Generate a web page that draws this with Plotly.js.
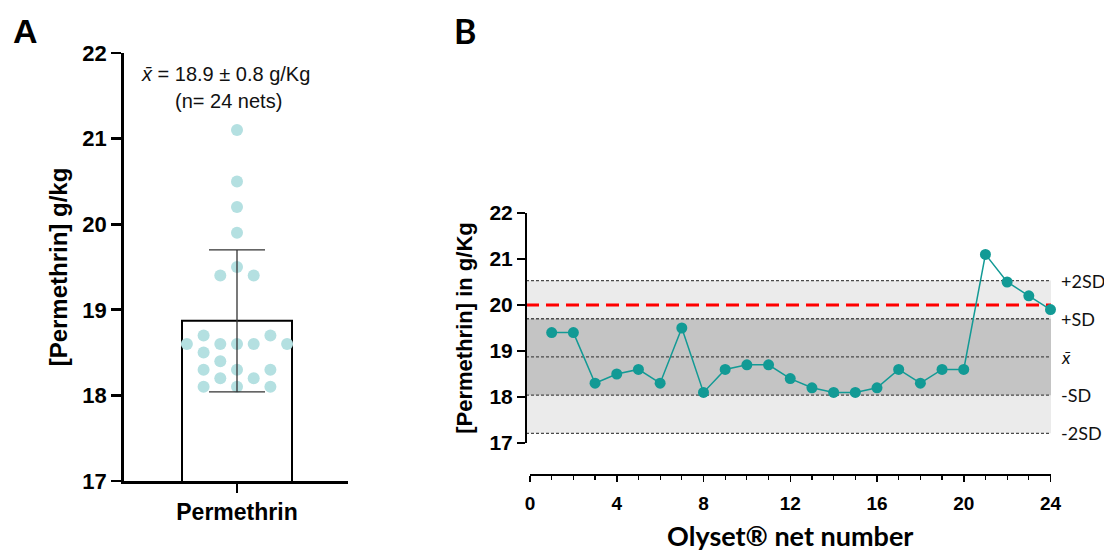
<!DOCTYPE html>
<html>
<head>
<meta charset="utf-8">
<script src="https://cdn.plot.ly/plotly-3.0.1.min.js"></script>
<style>html,body{margin:0;padding:0;background:#fff;}#chart{width:1104px;height:555px;}</style>
</head>
<body>
<div id="chart"></div>
<script>
// ---------- data ----------
const netNumbers = [1,2,3,4,5,6,7,8,9,10,11,12,13,14,15,16,17,18,19,20,21,22,23,24];
const permethrin = [19.4,19.4,18.3,18.5,18.6,18.3,19.5,18.1,18.6,18.7,18.7,18.4,18.2,18.1,18.1,18.2,18.6,18.3,18.6,18.6,21.1,20.5,20.2,19.9];
const barCategory = ['Permethrin'];
const yTickVals = [17,18,19,20,21,22];
const xTickValsB = [0,4,8,12,16,20,24];
const sdMultipliers = [2,1,0,-1,-2];
const sdLabels = ['+2SD','+SD','<i>x̄</i>','-SD','-2SD'];
const limitValue = 20;

// ---------- derived stats ----------
const n = permethrin.length;
const mean = permethrin.reduce((a,b)=>a+b,0)/n;
const sd = Math.sqrt(permethrin.reduce((a,b)=>a+(b-mean)*(b-mean),0)/(n-1));

// ---------- geometry helpers ----------
const W = 1104, H = 555;
const px = p => p/W;
const py = p => 1 - p/H;

// panel A x axis
const aLeft = 124, aRight = 348, barPx = 110, barCenterPx = 237;
const aRange = [-(barCenterPx-aLeft)/barPx, (aRight-barCenterPx)/barPx];
const stepPx = 16.7;
const stepX = stepPx / barPx;

// beeswarm slot assignment (grid based)
function swarmSlots(vals, res){
  const rowOf = v => Math.round(v/res);
  const rows = {};
  vals.forEach((v,i)=>{ const r=rowOf(v); (rows[r]=rows[r]||[]).push(i); });
  const keys = Object.keys(rows).map(Number).sort((a,b)=>rows[b].length-rows[a].length || a-b);
  const placed = {}, slots = new Array(vals.length);
  const all = []; for(let s=-7;s<=7;s++) all.push(s);
  const byAbs = (a,b)=>Math.abs(a)-Math.abs(b) || a-b;
  keys.forEach(r=>{
    const hasNb = rows[r-1] || rows[r+1];
    let cands;
    if(!hasNb){ cands = all.slice().sort(byAbs); }
    else{
      const par = (((r%2)+2)%2===0) ? 1 : 0;
      const pref = all.filter(s=>Math.abs(s)<=3 && Math.abs(s)%2===par).sort(byAbs);
      const other = all.filter(s=>!pref.includes(s)).sort(byAbs);
      cands = pref.concat(other);
    }
    placed[r] = [];
    rows[r].forEach(i=>{
      const ok = s => !placed[r].includes(s) && !(placed[r-1]||[]).includes(s) && !(placed[r+1]||[]).includes(s);
      const s = cands.find(ok);
      placed[r].push(s); slots[i]=s;
    });
  });
  return slots;
}
const slots = swarmSlots(permethrin, 0.1);
const swarmX = slots.map(s=>s*stepX);

const ARIAL = 'Liberation Sans, Arial, sans-serif';
const CAL = 'Lato, Open Sans, sans-serif';
const teal = '#129a95';

// ---------- traces ----------
const traces = [
  { type:'bar', x:[0], y:[mean], width:[1], xaxis:'x', yaxis:'y',
    marker:{color:'#ffffff', line:{color:'#000000', width:2}}, hoverinfo:'skip' },
  { type:'scatter', mode:'markers', x:swarmX, y:permethrin, xaxis:'x', yaxis:'y',
    marker:{size:12, color:'#b4e0e1'}, cliponaxis:false, hoverinfo:'skip' },
  { type:'scatter', mode:'markers', x:[0], y:[mean], xaxis:'x', yaxis:'y',
    marker:{size:1, opacity:0},
    error_y:{type:'data', array:[sd], symmetric:true, visible:true, color:'#333333', thickness:1.3, width:28},
    hoverinfo:'skip' },
  { type:'scatter', mode:'lines+markers', x:netNumbers, y:permethrin, xaxis:'x2', yaxis:'y2',
    line:{color:teal, width:1.5}, marker:{size:11, color:teal}, cliponaxis:false, hoverinfo:'skip' }
];

// ---------- shapes (panel B bands) ----------
const bx0 = px(526), bx1 = px(1051);
const shapes = [
  {type:'rect', xref:'paper', yref:'y2', x0:bx0, x1:bx1, y0:mean-2*sd, y1:mean+2*sd, fillcolor:'#ebebeb', line:{width:0}, layer:'below'},
  {type:'rect', xref:'paper', yref:'y2', x0:bx0, x1:bx1, y0:mean-sd, y1:mean+sd, fillcolor:'#c4c4c4', line:{width:0}, layer:'below'}
];
sdMultipliers.forEach(k=>{
  shapes.push({type:'line', xref:'paper', yref:'y2', x0:bx0, x1:bx1, y0:mean+k*sd, y1:mean+k*sd,
    line:{color:'#4a4a4a', width:1.3, dash:'3px,2px'}, layer:'below'});
});
shapes.push({type:'line', xref:'paper', yref:'y2', x0:bx0, x1:bx1, y0:limitValue, y1:limitValue,
  line:{color:'#ff0000', width:3, dash:'13px,7px'}, layer:'below'});

// ---------- annotations ----------
const annotations = [
  {text:'A', xref:'paper', yref:'paper', x:px(11), y:py(31), xanchor:'left', yanchor:'middle', showarrow:false,
   font:{family:ARIAL, size:34, weight:700, color:'#000'}},
  {text:'B', xref:'paper', yref:'paper', x:px(452), y:py(30), xanchor:'left', yanchor:'middle', showarrow:false,
   font:{family:CAL, size:34, weight:700, color:'#000'}},
  {text:'<i>x̄</i> = '+mean.toFixed(1)+' ± '+sd.toFixed(1)+' g/Kg', xref:'paper', yref:'paper', x:px(225), y:py(74),
   xanchor:'center', yanchor:'middle', showarrow:false, font:{family:ARIAL, size:20, color:'#111'}},
  {text:'(n= '+n+' nets)', xref:'paper', yref:'paper', x:px(228), y:py(101),
   xanchor:'center', yanchor:'middle', showarrow:false, font:{family:ARIAL, size:20, color:'#111'}}
];
sdMultipliers.forEach((k,i)=>{
  annotations.push({text:sdLabels[i], xref:'paper', yref:'y2', x:px(1059), y:mean+k*sd, xanchor:'left', yanchor:'middle',
    showarrow:false, font:{family:CAL, size:18, color:'#111'}});
});

// ---------- layout ----------
const layout = {
  width:W, height:H, autosize:false, margin:{l:0,r:0,t:0,b:0},
  paper_bgcolor:'#fff', plot_bgcolor:'rgba(0,0,0,0)', showlegend:false,
  xaxis:{domain:[px(aLeft), px(aRight)], range:aRange, anchor:'y',
    showline:true, linecolor:'#000', linewidth:2.8, ticks:'outside', ticklen:9, tickwidth:2.8, tickcolor:'#000',
    tickvals:[0], ticktext:barCategory, tickfont:{family:ARIAL, size:23, weight:700, color:'#000'},
    showgrid:false, zeroline:false, fixedrange:true},
  yaxis:{domain:[py(481), py(53)], range:[17,22], anchor:'x',
    showline:true, linecolor:'#000', linewidth:2.8, ticks:'outside', ticklen:10, tickwidth:2.8, tickcolor:'#000',
    tickvals:yTickVals, tickfont:{family:ARIAL, size:22, weight:700, color:'#000'},
    showgrid:false, zeroline:false, fixedrange:true,
    title:{text:'[Permethrin] g/kg', font:{family:ARIAL, size:24, weight:700, color:'#000'}, standoff:8}},
  xaxis2:{domain:[px(530), px(1050.5)], range:[0,24], anchor:'free', position:py(474),
    showline:true, linecolor:'#000', linewidth:1.5, ticks:'outside', ticklen:6, tickwidth:1.5, tickcolor:'#000',
    tickvals:xTickValsB, tickfont:{family:ARIAL, size:19, weight:700, color:'#000'}, ticklabelstandoff:6,
    minor:{dtick:1, ticks:'outside', ticklen:4, tickwidth:1.2, tickcolor:'#000', showgrid:false},
    showgrid:false, zeroline:false, fixedrange:true,
    title:{text:'Olyset® net number', font:{family:CAL, size:27, weight:700, color:'#000'}, standoff:14}},
  yaxis2:{domain:[py(443), py(213)], range:[17,22], anchor:'free', position:px(526), side:'left',
    showline:true, linecolor:'#000', linewidth:2, ticks:'outside', ticklen:8, tickwidth:2, tickcolor:'#000',
    tickvals:yTickVals, tickfont:{family:ARIAL, size:21, weight:700, color:'#000'},
    showgrid:false, zeroline:false, fixedrange:true,
    title:{text:'[Permethrin] in g/Kg', font:{family:ARIAL, size:22, weight:700, color:'#000'}, standoff:10}},
  shapes:shapes,
  annotations:annotations
};

Plotly.newPlot('chart', traces, layout, {staticPlot:true, displayModeBar:false});
</script>
</body>
</html>
